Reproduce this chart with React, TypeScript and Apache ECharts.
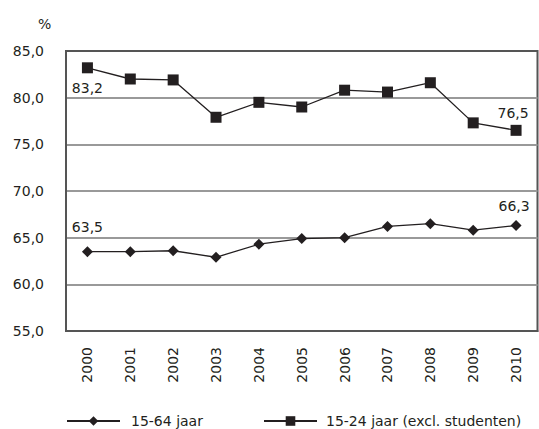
import React, { useEffect, useRef } from "react";
import * as echarts from "echarts";

const years = ["2000", "2001", "2002", "2003", "2004", "2005", "2006", "2007", "2008", "2009", "2010"];
const ages15to64 = [63.5, 63.5, 63.6, 62.9, 64.3, 64.9, 65.0, 66.2, 66.5, 65.8, 66.3];
const ages15to24 = [83.2, 82.0, 81.9, 77.9, 79.5, 79.0, 80.8, 80.6, 81.6, 77.3, 76.5];
const seriesNames = ["15-64 jaar", "15-24 jaar (excl. studenten)"];
const yTicks = { min: 55, max: 85, interval: 5 };

const FONT = "DejaVu Sans";
const TXT = "#231f20";
const fmt = (v: number) => v.toFixed(1).replace(".", ",");

export default function App() {
  const ref = useRef<HTMLDivElement>(null);
  useEffect(() => {
    if (!ref.current) return;
    const chart = echarts.init(ref.current, undefined, { renderer: "svg" });
    const last = years.length - 1;
    const lowData = ages15to64.map((v, i) => {
      if (i === 0)
        return { value: v, label: { show: true, position: "top", distance: 12, formatter: () => fmt(v) } };
      if (i === last)
        return { value: v, label: { show: true, position: "top", distance: 7, offset: [-2, 0], formatter: () => fmt(v) } };
      return v;
    });
    const highData = ages15to24.map((v, i) => {
      if (i === 0)
        return { value: v, label: { show: true, position: "bottom", distance: 8, formatter: () => fmt(v) } };
      if (i === last)
        return { value: v, label: { show: true, position: "top", distance: 5, offset: [-3, 0], formatter: () => fmt(v) } };
      return v;
    });
    const labelStyle = { fontFamily: FONT, fontSize: 14, color: TXT };
    chart.setOption({
      animation: false,
      textStyle: { fontFamily: FONT },
      grid: {
        left: 66,
        top: 51,
        right: 1.5,
        bottom: 98,
        show: true,
        borderColor: "#555",
        borderWidth: 2,
        backgroundColor: "transparent",
        containLabel: false,
      },
      graphic: [
        {
          type: "text",
          left: 38,
          top: 17,
          style: { text: "%", fontFamily: FONT, fontSize: 14, fill: TXT },
        },
      ],
      legend: [
        {
          data: [seriesNames[0]],
          left: 66,
          top: 414,
          padding: 0,
          itemWidth: 53,
          itemHeight: 12,
          textStyle: { fontFamily: FONT, fontSize: 14, color: TXT, padding: [0, 0, 0, 6] },
        },
        {
          data: [seriesNames[1]],
          left: 263,
          top: 414,
          padding: 0,
          itemWidth: 53,
          itemHeight: 12,
          textStyle: { fontFamily: FONT, fontSize: 14, color: TXT, padding: [0, 0, 0, 4] },
        },
      ],
      xAxis: {
        type: "category",
        data: years,
        boundaryGap: true,
        axisLine: { show: true, lineStyle: { color: "#555", width: 2 } },
        axisTick: { show: false },
        axisLabel: { rotate: 90, margin: 16, fontFamily: FONT, fontSize: 14, color: TXT },
        splitLine: { show: false },
      },
      yAxis: {
        type: "value",
        min: yTicks.min,
        max: yTicks.max,
        interval: yTicks.interval,
        axisLine: { show: true, lineStyle: { color: "#555", width: 2 } },
        axisTick: { show: false },
        axisLabel: { margin: 22, fontFamily: FONT, fontSize: 14, color: TXT, formatter: (v: number) => fmt(v) },
        splitLine: {
          show: true,
          lineStyle: { color: ["#555", "#999", "#999", "#999", "#999", "#999", "#555"], width: 2 },
        },
      },
      series: [
        {
          name: seriesNames[0],
          type: "line",
          data: lowData,
          symbol: "diamond",
          symbolSize: 11,
          itemStyle: { color: TXT },
          lineStyle: { color: TXT, width: 1.3 },
          label: labelStyle,
          z: 3,
        },
        {
          name: seriesNames[1],
          type: "line",
          data: highData,
          symbol: "rect",
          symbolSize: 11,
          itemStyle: { color: TXT },
          lineStyle: { color: TXT, width: 1.3 },
          label: labelStyle,
          z: 3,
        },
      ],
    });
    return () => chart.dispose();
  }, []);
  return <div ref={ref} style={{ position: "absolute", left: 0, top: 0, width: 539, height: 429 }} />;
}
